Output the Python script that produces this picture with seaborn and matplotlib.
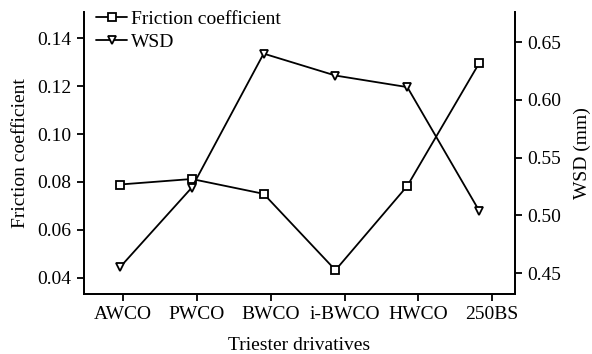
import numpy as np
import pandas as pd
import seaborn as sns
import matplotlib
matplotlib.use("Agg")
import matplotlib.pyplot as plt
from matplotlib.lines import Line2D

# data
samples = ["AWCO", "PWCO", "BWCO", "i-BWCO", "HWCO", "250BS"]
friction = [0.0789, 0.0812, 0.0750, 0.0431, 0.0783, 0.1296]
wsd = [0.455, 0.524, 0.640, 0.621, 0.611, 0.504]

df = pd.DataFrame({"pos": np.arange(len(samples)), "sample": samples,
                   "friction": friction, "wsd": wsd})

sns.set_style("ticks")
plt.rcParams["font.family"] = ["Liberation Serif", "DejaVu Serif"]
plt.rcParams["font.size"] = 14
for key in ("text.color", "axes.labelcolor", "xtick.color", "ytick.color",
            "axes.edgecolor"):
    plt.rcParams[key] = "black"

fig, ax = plt.subplots(figsize=(5.92, 3.54), dpi=100)
ax2 = ax.twinx()

sns.lineplot(data=df, x="pos", y="friction", ax=ax, color="black", lw=1.3,
             marker="s", markersize=5.5, markerfacecolor="white",
             markeredgecolor="black", markeredgewidth=1.3)
sns.lineplot(data=df, x="pos", y="wsd", ax=ax2, color="black", lw=1.3,
             marker="v", markersize=5.5, markerfacecolor="white",
             markeredgecolor="black", markeredgewidth=1.3)

ax.set_xlim(-0.5, 5.5)
# ticks in the original sit slightly off the markers
ax.set_xticks(0.042 + 1.028 * np.arange(len(samples)))
ax.set_xticklabels(samples)
ax.set_ylim(0.0332, 0.151)
ax.set_yticks([0.04, 0.06, 0.08, 0.10, 0.12, 0.14])
ax.set_yticklabels(["0.04", "0.06", "0.08", "0.10", "0.12", "0.14"])
ax2.set_ylim(0.432, 0.676)
ax2.set_yticks([0.45, 0.50, 0.55, 0.60, 0.65])
ax2.set_yticklabels(["0.45", "0.50", "0.55", "0.60", "0.65"])

ax.set_xlabel("Triester drivatives", labelpad=10)
ax.set_ylabel("Friction coefficient", labelpad=6)
ax2.set_ylabel("WSD (mm)", rotation=90, labelpad=9)

for a in (ax, ax2):
    a.spines["top"].set_visible(False)
    for s in a.spines.values():
        s.set_linewidth(1.3)
        s.set_color("black")
    a.tick_params(direction="out", length=5, width=1.3, labelsize=14, pad=4,
                  colors="black")

handles = [
    Line2D([], [], color="black", lw=1.3, marker="s", markersize=5.5,
           markerfacecolor="white", markeredgewidth=1.3),
    Line2D([], [], color="black", lw=1.3, marker="v", markersize=5.5,
           markerfacecolor="white", markeredgewidth=1.3),
]
ax.legend(handles, ["Friction coefficient", "WSD"], loc="upper left",
          frameon=False, fontsize=14, handlelength=1.6, handletextpad=0.2,
          labelspacing=0.3, borderaxespad=0.0, bbox_to_anchor=(0.01, 1.035))

fig.subplots_adjust(left=0.142, right=0.87, top=0.966, bottom=0.17)
fig.savefig("out.png", dpi=100)
